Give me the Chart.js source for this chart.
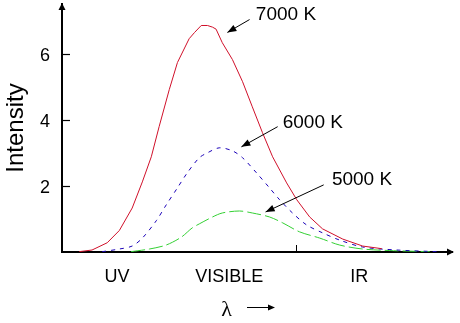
<!DOCTYPE html>
<html>
<head>
<meta charset="utf-8">
<script src="https://cdn.jsdelivr.net/npm/chart.js@4/dist/chart.umd.min.js"></script>
<style>
  html, body { margin: 0; padding: 0; background: #fff; }
  #wrap { width: 460px; height: 323px; }
</style>
</head>
<body>
<div id="wrap"><canvas id="c" width="460" height="323"></canvas></div>
<script>
// Wavelength axis in arbitrary units (0..100), intensity in arbitrary units
const regionLabels = ['UV', 'VISIBLE', 'IR'];
const regionPositions = [14.1, 42.9, 76.2];
const boundaryTick = 60;
const yTickValues = [2, 4, 6];

const x7000 = [4.4, 7.7, 11.6, 14.7, 18.0, 20.6, 22.9, 24.9, 27.5, 29.6, 32.6, 34.0, 35.7, 37.3, 38.6, 39.5, 41.1, 43.7, 46.3, 48.8, 51.4, 54.0, 57.6, 60.2, 63.5, 66.8, 72.0, 77.1, 82.0];
const y7000 = [0.01, 0.06, 0.28, 0.65, 1.33, 2.12, 2.88, 3.79, 4.91, 5.73, 6.45, 6.64, 6.85, 6.85, 6.80, 6.74, 6.33, 5.82, 5.15, 4.39, 3.61, 2.88, 2.09, 1.58, 1.06, 0.70, 0.39, 0.18, 0.10];

const x6000 = [10.3, 14.7, 18.0, 20.6, 24.2, 26.7, 29.6, 32.1, 35.2, 37.3, 40.3, 43.7, 46.3, 49.9, 53.2, 55.8, 59.1, 62.7, 66.8, 71.2, 77.1, 85.9, 96.1];
const y6000 = [0.01, 0.09, 0.18, 0.42, 0.95, 1.42, 1.94, 2.39, 2.85, 3.00, 3.15, 3.06, 2.85, 2.39, 1.94, 1.58, 1.18, 0.82, 0.58, 0.36, 0.15, 0.06, 0.01];

const x5000 = [17.7, 22.4, 26.7, 30.6, 33.4, 35.2, 38.6, 41.1, 45.5, 48.8, 53.2, 56.6, 60.9, 66.1, 71.2, 77.1, 85.0, 94.3];
const y5000 = [0.01, 0.09, 0.21, 0.45, 0.73, 0.85, 1.06, 1.18, 1.24, 1.18, 1.06, 0.88, 0.61, 0.42, 0.21, 0.09, 0.04, 0.01];

const seriesNames = ['7000 K', '6000 K', '5000 K'];

function pts(xs, ys) { return xs.map((x, i) => ({ x: x, y: ys[i] })); }

const FONT = '"Liberation Sans", Arial, sans-serif';

function arrowHead(ctx, x1, y1, x2, y2, len, half) {
  const a = Math.atan2(y2 - y1, x2 - x1);
  ctx.beginPath();
  ctx.moveTo(x2, y2);
  ctx.lineTo(x2 - len * Math.cos(a) + half * Math.sin(a), y2 - len * Math.sin(a) - half * Math.cos(a));
  ctx.lineTo(x2 - len * Math.cos(a) - half * Math.sin(a), y2 - len * Math.sin(a) + half * Math.cos(a));
  ctx.closePath();
  ctx.fill();
}

const decor = {
  id: 'decor',
  afterDraw(chart, args, opts) {
    const ctx = chart.ctx;
    const xs = chart.scales.x, ys = chart.scales.y;
    const ca = chart.chartArea;
    ctx.save();
    ctx.fillStyle = '#000';
    ctx.strokeStyle = '#000';
    // axis arrowheads
    arrowHead(ctx, ca.left, ca.bottom, ca.left, ca.top - 1, 7, 3.5);
    arrowHead(ctx, ca.left, ca.bottom, ca.right + 2, ca.bottom, 7, 3.5);
    // inward y tick marks
    ctx.lineWidth = 1.2;
    yTickValues.forEach(v => {
      const p = Math.round(ys.getPixelForValue(v)) + 0.5;
      ctx.beginPath(); ctx.moveTo(ca.left, p); ctx.lineTo(ca.left + 8, p); ctx.stroke();
    });
    // boundary tick on x axis
    const bx = Math.round(xs.getPixelForValue(boundaryTick)) + 0.5;
    ctx.lineWidth = 1;
    ctx.beginPath(); ctx.moveTo(bx, ca.bottom); ctx.lineTo(bx, ca.bottom - 7); ctx.stroke();
    // series annotations
    ctx.font = '19px ' + FONT;
    ctx.textBaseline = 'middle';
    ctx.textAlign = 'left';
    opts.notes.forEach(n => {
      const tx = xs.getPixelForValue(n.text[0]), ty = ys.getPixelForValue(n.text[1]);
      ctx.fillText(n.label, tx, ty);
      const x1 = xs.getPixelForValue(n.from[0]), y1 = ys.getPixelForValue(n.from[1]);
      const x2 = xs.getPixelForValue(n.to[0]), y2 = ys.getPixelForValue(n.to[1]);
      ctx.lineWidth = 1;
      ctx.beginPath(); ctx.moveTo(x1, y1); ctx.lineTo(x2, y2); ctx.stroke();
      arrowHead(ctx, x1, y1, x2, y2, 9, 3.5);
    });
    // lambda with arrow
    ctx.font = '22px "Liberation Serif", "DejaVu Serif", serif';
    ctx.textAlign = 'center';
    ctx.fillText('λ', 226.5, 310);
    ctx.lineWidth = 1;
    ctx.beginPath(); ctx.moveTo(247, 307.5); ctx.lineTo(270, 307.5); ctx.stroke();
    arrowHead(ctx, 247, 307.5, 275, 307.5, 7, 3);
    ctx.restore();
  }
};

new Chart(document.getElementById('c'), {
  type: 'line',
  data: {
    datasets: [
      { label: seriesNames[0], data: pts(x7000, y7000), borderColor: '#d0102a', borderWidth: 1, pointRadius: 0, tension: 0, fill: false },
      { label: seriesNames[1], data: pts(x6000, y6000), borderColor: '#1a00b8', borderWidth: 1, borderDash: [4, 5], pointRadius: 0, tension: 0.3, fill: false },
      { label: seriesNames[2], data: pts(x5000, y5000), borderColor: '#33d033', borderWidth: 1, borderDash: [14, 4], pointRadius: 0, tension: 0.3, fill: false }
    ]
  },
  options: {
    responsive: false,
    animation: false,
    layout: { padding: { top: 4, right: 8, left: 0, bottom: 0 } },
    plugins: {
      legend: { display: false },
      tooltip: { enabled: false },
      decor: {
        notes: [
          { label: seriesNames[0], text: [49.7, 7.18], from: [48.1, 7.03], to: [42.4, 6.64] },
          { label: seriesNames[1], text: [56.6, 3.91], from: [55.3, 3.79], to: [46.0, 3.18] },
          { label: seriesNames[2], text: [69.2, 2.17], from: [67.1, 2.03], to: [52.2, 1.21] }
        ]
      }
    },
    scales: {
      x: {
        type: 'linear', min: 0, max: 100,
        grid: { display: false, drawTicks: false },
        border: { display: true, color: '#000', width: 2 },
        afterBuildTicks: s => { s.ticks = regionPositions.map(v => ({ value: v })); },
        afterFit: s => { s.height = 71; s.paddingLeft = 0; s.paddingRight = 0; },
        ticks: {
          autoSkip: false, maxRotation: 0, color: '#000', padding: 14,
          font: { family: FONT, size: 18 },
          callback: (v, i) => regionLabels[i]
        }
      },
      y: {
        type: 'linear', min: 0, max: 7.5,
        grid: { display: false, drawTicks: false },
        border: { display: true, color: '#000', width: 2 },
        afterBuildTicks: s => { s.ticks = yTickValues.map(v => ({ value: v })); },
        afterFit: s => { s.width = 62; s.paddingTop = 0; s.paddingBottom = 0; },
        ticks: {
          color: '#000', padding: 12, labelOffset: 2,
          font: { family: FONT, size: 18 },
          callback: v => String(v)
        },
        title: {
          display: true, text: 'Intensity', color: '#000',
          font: { family: FONT, size: 24 },
          padding: { top: 2, bottom: 0 }
        }
      }
    }
  },
  plugins: [decor]
});
</script>
</body>
</html>
